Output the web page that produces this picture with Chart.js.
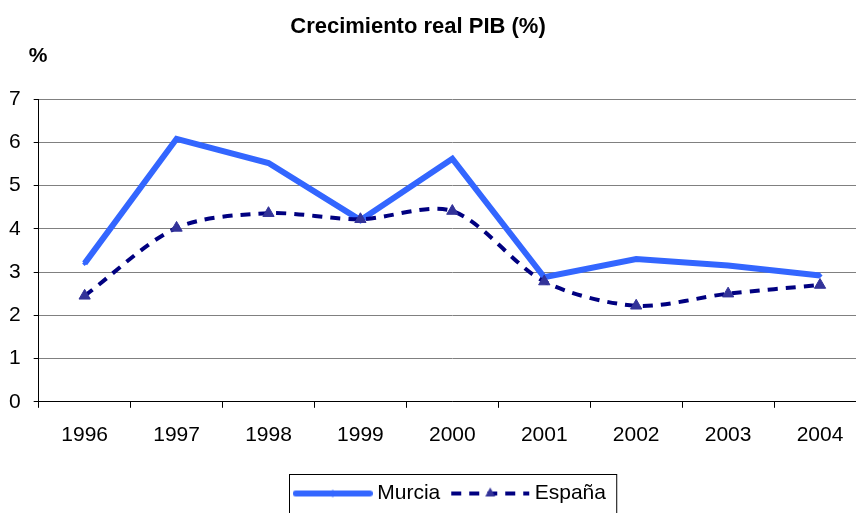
<!DOCTYPE html>
<html>
<head>
<meta charset="utf-8">
<style>
  html, body { margin: 0; padding: 0; background: #fff; overflow: hidden; }
  #wrap { width: 880px; height: 530px; }
</style>
</head>
<body>
<div id="wrap"><canvas id="pibChart" width="880" height="530"></canvas></div>
<script src="https://cdn.jsdelivr.net/npm/chart.js"></script>
<script>
  const years = ['1996', '1997', '1998', '1999', '2000', '2001', '2002', '2003', '2004']
  const murcia = [3.2, 6.08, 5.52, 4.2, 5.62, 2.88, 3.3, 3.15, 2.92]
  const espana = [2.45, 4.02, 4.36, 4.22, 4.41, 2.78, 2.22, 2.5, 2.7]
  const seriesNames = ['Murcia', 'España']
  const chartTitle = 'Crecimiento real PIB (%)'
  const yUnit = '%'

  const FONT = "'Liberation Sans', Arial, sans-serif"
  const MURCIA_COLOR = '#3366FF'
  const ESPANA_COLOR = '#000080'
  const ESPANA_MARK = '#333399'

  // small legend samples (line + marker) drawn as images
  function sample(kind) {
    const c = document.createElement('canvas')
    c.width = 80; c.height = 16
    const g = c.getContext('2d')
    if (kind === 0) {
      g.strokeStyle = MURCIA_COLOR
      g.lineWidth = 6
      g.lineCap = 'round'
      g.beginPath(); g.moveTo(3, 8); g.lineTo(77, 8); g.stroke()
      g.fillStyle = MURCIA_COLOR
      g.beginPath(); g.moveTo(40, 4); g.lineTo(43, 8); g.lineTo(40, 12); g.lineTo(37, 8); g.closePath(); g.fill()
    } else {
      g.strokeStyle = ESPANA_COLOR
      g.lineWidth = 4
      g.setLineDash([10, 8])
      g.beginPath(); g.moveTo(1, 8); g.lineTo(79, 8); g.stroke()
      g.fillStyle = ESPANA_MARK
      g.beginPath(); g.moveTo(40, 2); g.lineTo(45, 11); g.lineTo(35, 11); g.closePath(); g.fill()
    }
    return c
  }
  const samples = [sample(0), sample(1)]

  const decorations = {
    id: 'decorations',
    afterDraw(chart) {
      const ctx = chart.ctx
      ctx.save()
      ctx.fillStyle = '#000'
      ctx.textAlign = 'center'
      ctx.textBaseline = 'middle'
      ctx.font = 'bold 22px ' + FONT
      ctx.fillText(chartTitle, 418, 27)
      ctx.font = 'bold 21px ' + FONT
      ctx.fillText(yUnit, 38, 56)
      // legend frame
      const hb = chart.legend.legendHitBoxes
      if (hb && hb.length) {
        const left = Math.min(...hb.map(h => h.left)) - 10
        const right = Math.max(...hb.map(h => h.left + h.width)) + 10
        const cy = hb[0].top + hb[0].height / 2
        ctx.strokeStyle = '#000'
        ctx.lineWidth = 1
        ctx.strokeRect(Math.round(left) + 0.5, Math.round(cy - 20) + 0.5, right - left, 42)
      }
      ctx.restore()
    }
  }

  new Chart(document.getElementById('pibChart'), {
    type: 'line',
    data: {
      labels: years,
      datasets: [{
        label: seriesNames[0],
        data: murcia,
        borderColor: MURCIA_COLOR,
        backgroundColor: MURCIA_COLOR,
        borderWidth: 6,
        pointStyle: 'rectRot',
        pointRadius: 2.5,
        pointBorderWidth: 0,
        tension: 0,
        order: 1
      }, {
        label: seriesNames[1],
        data: espana,
        borderColor: ESPANA_COLOR,
        backgroundColor: ESPANA_MARK,
        borderWidth: 4,
        borderDash: [10, 8],
        pointStyle: 'triangle',
        pointRadius: 6.5,
        pointBorderColor: ESPANA_MARK,
        pointBorderWidth: 1,
        tension: 0.3,
        order: 0
      }]
    },
    plugins: [decorations],
    options: {
      responsive: false,
      devicePixelRatio: 1,
      animation: false,
      layout: { padding: { top: 99, left: -4, right: 14, bottom: 16 } },
      plugins: {
        title: { display: false },
        tooltip: { enabled: false },
        legend: {
          position: 'bottom',
          fullSize: false,
          labels: {
            usePointStyle: true,
            pointStyleWidth: 68,
            boxHeight: 16,
            padding: 16,
            color: '#000',
            font: { family: FONT, size: 21 },
            generateLabels: () => seriesNames.map((name, i) => ({
              text: name,
              pointStyle: samples[i],
              fillStyle: 'transparent',
              strokeStyle: 'transparent',
              lineWidth: 0,
              datasetIndex: i,
              hidden: false
            }))
          }
        }
      },
      scales: {
        x: {
          offset: true,
          grid: { display: true, drawOnChartArea: false, drawTicks: true, tickLength: 6, tickColor: '#000', offset: true },
          border: { display: true, color: '#000', width: 1 },
          ticks: { color: '#000', padding: 15, font: { family: FONT, size: 21 } },
          afterFit: (scale) => { scale.height += 4 }
        },
        y: {
          min: 0,
          max: 7,
          ticks: { stepSize: 1, color: '#000', padding: 13, font: { family: FONT, size: 21 } },
          grid: { color: '#808080', lineWidth: 1, drawTicks: true, tickLength: 5, tickColor: '#000' },
          border: { display: true, color: '#000', width: 1 }
        }
      }
    }
  })
</script>
</body>
</html>
